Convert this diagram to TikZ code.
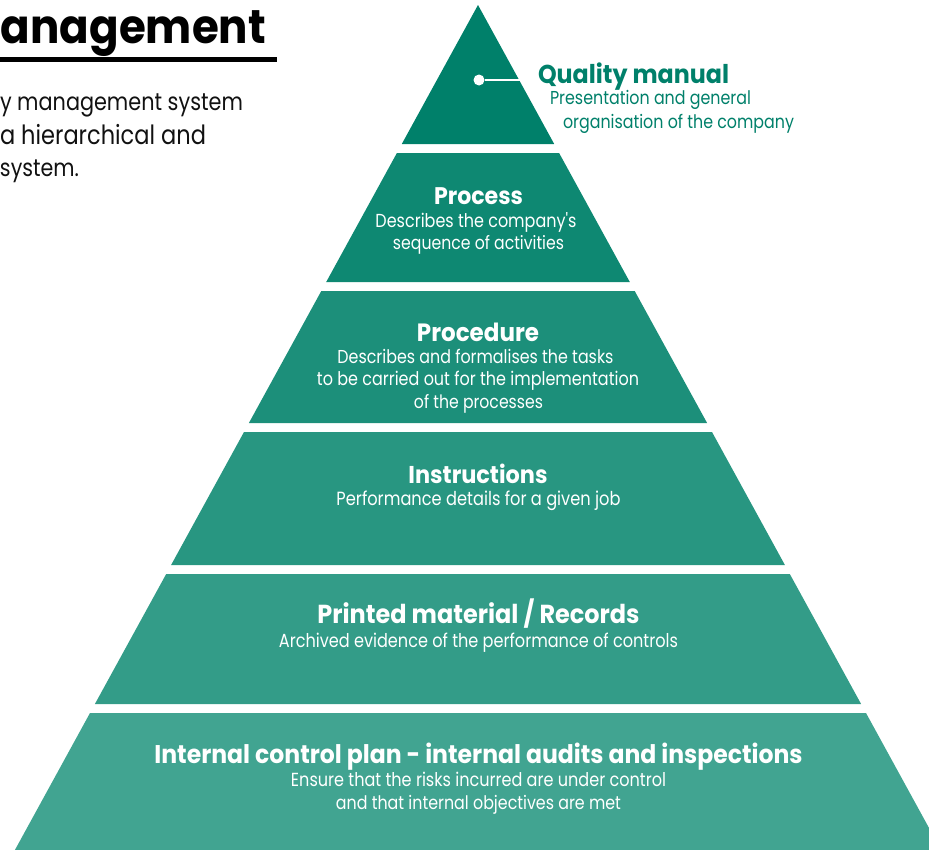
\documentclass[tikz,border=0pt]{standalone}
\usepackage{fontspec}
\setmainfont{Poppins}
\newfontfamily\regf[FakeStretch=0.85]{Poppins}
\newfontfamily\boldf[FakeStretch=0.92]{Poppins Bold}
\newcommand\fitline[2]{\resizebox{#1bp}{!}{#2}}
\definecolor{b1}{RGB}{0,128,106}
\definecolor{b2}{RGB}{14,136,114}
\definecolor{b3}{RGB}{28,143,122}
\definecolor{b4}{RGB}{40,150,129}
\definecolor{b5}{RGB}{51,156,136}
\definecolor{b6}{RGB}{65,164,145}
\definecolor{ink}{RGB}{17,17,17}
\begin{document}
\begin{tikzpicture}[x=1bp,y=-1bp,
  wtxt/.style={inner sep=0pt, outer sep=0pt, text=white, anchor=base},
  btxt/.style={inner sep=0pt, outer sep=0pt, text=ink, anchor=base west},
  gtxt/.style={inner sep=0pt, outer sep=0pt, text=b1, anchor=base west}]
\useasboundingbox (0,0) rectangle (929,850);
\clip (0,0) rectangle (929,850);
% pyramid bands
\fill[b1] (478,5) -- (554.2,144) -- (401.8,144) -- cycle;
\fill[b2] (396.9,153) -- (559.1,153) -- (629.8,282) -- (326.2,282) -- cycle;
\fill[b3] (321.3,291) -- (634.7,291) -- (707.1,423) -- (248.9,423) -- cycle;
\fill[b4] (244.0,432) -- (712.0,432) -- (784.9,565) -- (171.1,565) -- cycle;
\fill[b5] (166.2,574) -- (789.8,574) -- (861.1,704) -- (94.9,704) -- cycle;
\fill[b6] (90.0,713) -- (866.0,713) -- (941.1,850) -- (14.9,850) -- cycle;
% title
\node[inner sep=0pt, outer sep=0pt, anchor=base east, text=black] (title) at (266,43)
  {\fitline{265}{\boldf anagement}};
\coordinate (ulA) at (-2,59.5);
\coordinate (ulB) at (277,59.5);
\draw[line width=5bp, black] (ulA) -- (ulB);
\node[btxt] (intro1) at (0,110) {\fitline{243}{\regf y management system}};
\node[btxt] (intro2) at (0,144) {\fitline{206}{\regf a hierarchical and}};
\node[btxt] (intro3) at (0,176) {\fitline{79}{\regf system.}};
% quality manual callout
\node[circle, fill=white, minimum size=11bp, inner sep=0pt] (dot) at (479,80) {};
\coordinate (edge) at (520,80);
\draw[white, line width=2.8bp] (dot) -- (edge);
\node[gtxt] (qm) at (538,83) {\fitline{191}{\boldf Quality manual}};
\node[gtxt] (qm1) at (550,104) {\fitline{201}{\regf Presentation and general}};
\node[gtxt] (qm2) at (563,128) {\fitline{231}{\regf organisation of the company}};
% process
\node[wtxt] (p0) at (478.5,204) {\fitline{89}{\boldf Process}};
\node[wtxt] (p1) at (476,227) {\fitline{201}{\regf Describes the company's}};
\node[wtxt] (p2) at (478.5,249) {\fitline{171}{\regf sequence of activities}};
% procedure
\node[wtxt] (r0) at (478,341) {\fitline{122}{\boldf Procedure}};
\node[wtxt] (r1) at (475.5,363) {\fitline{276}{\regf Describes and formalises the tasks}};
\node[wtxt] (r2) at (478,385) {\fitline{322}{\regf to be carried out for the implementation}};
\node[wtxt] (r3) at (478.5,408) {\fitline{129}{\regf of the processes}};
% instructions
\node[wtxt] (i0) at (478,483) {\fitline{139}{\boldf Instructions}};
\node[wtxt] (i1) at (478.5,505) {\fitline{284}{\regf Performance details for a given job}};
% printed material
\node[wtxt] (m0) at (478.5,623) {\fitline{322}{\boldf Printed material / Records}};
\node[wtxt] (m1) at (478.5,647) {\fitline{399}{\regf Archived evidence of the performance of controls}};
% internal control
\node[wtxt] (c0) at (478.5,763) {\fitline{648}{\boldf Internal control plan - internal audits and inspections}};
\node[wtxt] (c1) at (478.5,786) {\fitline{375}{\regf Ensure that the risks incurred are under control}};
\node[wtxt] (c2) at (478.5,809) {\fitline{285}{\regf and that internal objectives are met}};
\end{tikzpicture}
\end{document}
